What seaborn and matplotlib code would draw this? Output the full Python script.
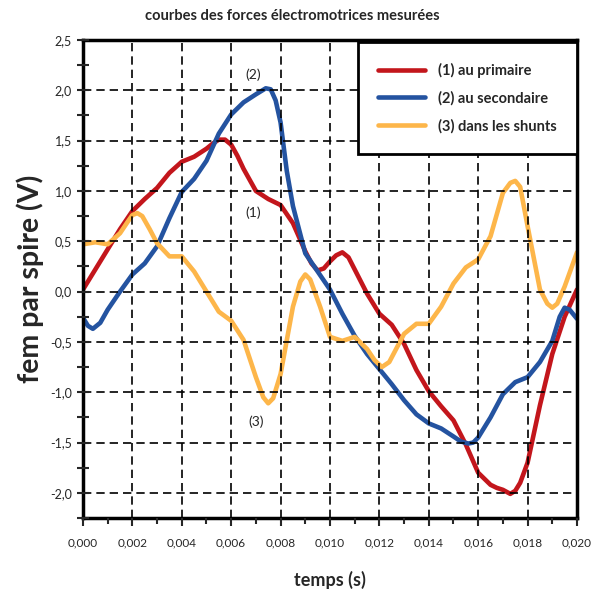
import numpy as np
import pandas as pd
import seaborn as sns
import matplotlib.pyplot as plt
from matplotlib.ticker import MultipleLocator, FuncFormatter

# values
t_prim = [0.0, 0.0005, 0.001, 0.0015, 0.002, 0.0025, 0.003, 0.0035, 0.004, 0.0045,
          0.005, 0.00525, 0.0055, 0.00575, 0.006, 0.00625, 0.0065, 0.007, 0.0075, 0.008,
          0.0085, 0.009, 0.00925, 0.0095, 0.00975, 0.010, 0.01025, 0.0105, 0.01075, 0.011,
          0.0115, 0.012, 0.0125, 0.013, 0.0135, 0.014, 0.0145, 0.015, 0.0155, 0.016,
          0.0165, 0.01675, 0.017, 0.0173, 0.0175, 0.0177, 0.018, 0.0185, 0.019, 0.0195,
          0.020]
fem_prim = [0.02, 0.22, 0.42, 0.62, 0.80, 0.92, 1.03, 1.18, 1.29, 1.34,
            1.42, 1.47, 1.51, 1.51, 1.46, 1.35, 1.22, 1.00, 0.92, 0.86,
            0.68, 0.40, 0.28, 0.21, 0.23, 0.30, 0.36, 0.39, 0.34, 0.22,
            -0.02, -0.22, -0.33, -0.52, -0.78, -0.99, -1.14, -1.28, -1.52, -1.80,
            -1.92, -1.95, -1.97, -2.01, -1.98, -1.90, -1.70, -1.13, -0.62, -0.25,
            0.02]

t_sec = [0.0, 0.0002, 0.0004, 0.0007, 0.001, 0.0015, 0.002, 0.0025, 0.003, 0.0035,
         0.004, 0.0045, 0.005, 0.0055, 0.006, 0.0065, 0.007, 0.0072, 0.0074, 0.0076,
         0.0078, 0.008, 0.00825, 0.0085, 0.009, 0.0095, 0.010, 0.0105, 0.011, 0.0115,
         0.012, 0.0125, 0.013, 0.0135, 0.014, 0.0145, 0.015, 0.0153, 0.0156, 0.0158,
         0.016, 0.0165, 0.017, 0.0175, 0.018, 0.0185, 0.019, 0.0193, 0.0195, 0.0197,
         0.020]
fem_sec = [-0.26, -0.34, -0.37, -0.31, -0.18, 0.00, 0.17, 0.28, 0.45, 0.73,
           0.99, 1.12, 1.30, 1.57, 1.76, 1.88, 1.96, 1.99, 2.02, 2.01,
           1.90, 1.68, 1.20, 0.85, 0.38, 0.20, 0.02, -0.22, -0.44, -0.62,
           -0.77, -0.92, -1.08, -1.22, -1.31, -1.36, -1.44, -1.49, -1.51, -1.50,
           -1.45, -1.25, -1.02, -0.90, -0.85, -0.70, -0.49, -0.25, -0.16, -0.18,
           -0.27]

t_shunt = [0.0, 0.0005, 0.001, 0.0015, 0.0018, 0.002, 0.0022, 0.0024, 0.0027, 0.003,
           0.0035, 0.004, 0.0045, 0.005, 0.0055, 0.006, 0.0065, 0.007, 0.0073, 0.0075,
           0.0077, 0.008, 0.0085, 0.0088, 0.009, 0.0092, 0.0096, 0.010, 0.0105, 0.011,
           0.0115, 0.0118, 0.0121, 0.0124, 0.013, 0.0135, 0.014, 0.0145, 0.015, 0.0155,
           0.016, 0.0165, 0.017, 0.0173, 0.0175, 0.0177, 0.018, 0.0185, 0.0188, 0.019,
           0.0192, 0.0195, 0.020]
fem_shunt = [0.47, 0.49, 0.47, 0.58, 0.69, 0.76, 0.78, 0.75, 0.62, 0.48,
             0.35, 0.35, 0.20, 0.00, -0.20, -0.29, -0.48, -0.85, -1.05, -1.11,
             -1.06, -0.82, -0.15, 0.10, 0.17, 0.12, -0.15, -0.45, -0.49, -0.45,
             -0.57, -0.68, -0.75, -0.70, -0.42, -0.32, -0.32, -0.15, 0.08, 0.24,
             0.32, 0.55, 0.98, 1.08, 1.10, 1.04, 0.65, 0.02, -0.12, -0.16,
             -0.12, 0.05, 0.39]

labels = ["(1) au primaire", "(2) au secondaire", "(3) dans les shunts"]
colors = ["#C3161C", "#2453A0", "#FDB64A"]

df = pd.concat([
    pd.DataFrame({"t": t_prim, "fem": fem_prim, "serie": labels[0]}),
    pd.DataFrame({"t": t_sec, "fem": fem_sec, "serie": labels[1]}),
    pd.DataFrame({"t": t_shunt, "fem": fem_shunt, "serie": labels[2]}),
])

sns.set_style("white")
plt.rcParams["font.family"] = ["Lato", "DejaVu Sans"]

fig = plt.figure(figsize=(5.91, 5.97), dpi=100)
ax = fig.add_axes([0.1404, 0.1323, 0.8359, 0.8007])

sns.lineplot(data=df, x="t", y="fem", hue="serie", palette=dict(zip(labels, colors)),
             sort=False, estimator=None, linewidth=3.3, ax=ax, legend=False,
             solid_joinstyle="round", solid_capstyle="round")

ax.set_xlim(0, 0.020)
ax.set_ylim(-2.25, 2.5)
ax.xaxis.set_major_locator(MultipleLocator(0.002))
ax.xaxis.set_minor_locator(MultipleLocator(0.001))
ax.yaxis.set_major_locator(MultipleLocator(0.5))
ax.yaxis.set_minor_locator(MultipleLocator(0.25))
ax.xaxis.set_major_formatter(FuncFormatter(lambda v, p: f"{v:.3f}".replace(".", ",")))
ax.yaxis.set_major_formatter(FuncFormatter(lambda v, p: f"{v:.1f}".replace(".", ",") if v >= -2.01 else ""))

ax.grid(True, which="major", color="black", linestyle=(0, (5, 3)), linewidth=1.2)
ax.set_axisbelow(False)
for sp in ax.spines.values():
    sp.set_color("black")
    sp.set_linewidth(2.5)

ax.tick_params(axis="x", which="major", direction="out", length=6, width=1.5, labelsize=8.5, pad=8)
ax.tick_params(axis="x", which="minor", direction="out", length=4, width=1.5)
ax.tick_params(axis="y", which="both", direction="inout", length=8, width=1.5, labelsize=9, pad=4)
ax.tick_params(bottom=True, left=True, which="both")

ax.set_xlabel("temps (s)", fontsize=13, fontweight="bold", labelpad=16)
ax.set_ylabel("fem par spire (V)", fontsize=20.5, fontweight="bold", labelpad=4)
fig.suptitle("courbes des forces électromotrices mesurées", fontsize=10.5,
             fontweight="bold", x=0.495, y=0.985)

ax.text(0.00688, 2.15, "(2)", fontsize=10, ha="center", va="center")
ax.text(0.00688, 0.78, "(1)", fontsize=10, ha="center", va="center")
ax.text(0.0070, -1.29, "(3)", fontsize=10, ha="center", va="center")

handles = [plt.Line2D([], [], color=c, linewidth=3.3, solid_capstyle="round") for c in colors]
leg = ax.legend(handles, labels, loc="upper right", bbox_to_anchor=(1.0, 0.995),
                borderaxespad=0, fancybox=False, framealpha=1, handlelength=3.2,
                labelspacing=0.9, borderpad=1.4, handletextpad=0.9,
                prop={"weight": "bold", "size": 10.5})
leg.get_frame().set_edgecolor("black")
leg.get_frame().set_linewidth(2)
leg.set_zorder(5)

plt.savefig("out.png", dpi=100)
